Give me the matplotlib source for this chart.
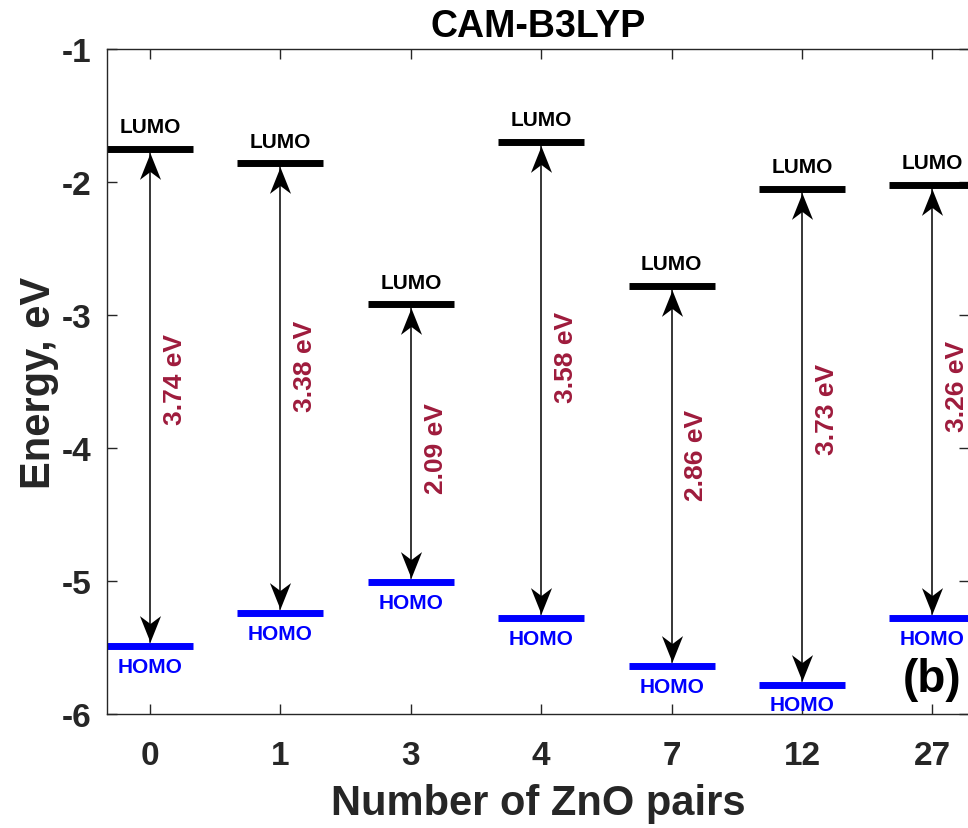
#!/usr/bin/env python

# levels.py - HOMO/LUMO energy levels and gaps vs. number of ZnO pairs (CAM-B3LYP)

# require
import matplotlib
matplotlib.use( 'Agg' )
import matplotlib.pyplot as plt
from matplotlib.path import Path

# data
pairs     = [ '0', '1', '3', '4', '7', '12', '27' ]
lumo      = [ -1.75, -1.86, -2.92, -1.70, -2.78, -2.05, -2.02 ]
homo      = [ -5.49, -5.24, -5.01, -5.28, -5.64, -5.78, -5.28 ]
gaps      = [ '3.74 eV', '3.38 eV', '2.09 eV', '3.58 eV', '2.86 eV', '3.73 eV', '3.26 eV' ]
gap_label_y = [ -3.48, -3.38, -4.00, -3.31, -4.05, -3.70, -3.53 ]

# configure
FONT      = 'Liberation Sans'
HALF      = 0.33
GAPCOLOR  = '#9e1b3c'
GREY      = '#262626'
TIP       = 0.03

plt.rcParams[ 'font.family' ] = [ FONT, 'DejaVu Sans' ]
plt.rcParams[ 'font.weight' ] = 'bold'
plt.rcParams[ 'axes.unicode_minus' ] = False

# arrow heads, tip at the origin
up   = Path( [ ( 0, 0 ), ( -0.4, -1 ), ( 0, -0.7 ), ( 0.4, -1 ), ( 0, 0 ) ],
             [ Path.MOVETO, Path.LINETO, Path.LINETO, Path.LINETO, Path.CLOSEPOLY ] )
down = Path( [ ( 0, 0 ), ( -0.4, 1 ), ( 0, 0.7 ), ( 0.4, 1 ), ( 0, 0 ) ],
             [ Path.MOVETO, Path.LINETO, Path.LINETO, Path.LINETO, Path.CLOSEPOLY ] )

fig = plt.figure( figsize=( 9.68, 8.29 ), dpi=100 )
ax  = fig.add_axes( [ 0.1105, 0.1375, 0.8905, 0.8022 ] )

for i, ( l, h ) in enumerate( zip( lumo, homo ) ) :
	x = i + 1
	ax.plot( [ x - HALF, x + HALF ], [ l, l ], color='black', lw=5, solid_capstyle='butt' )
	ax.plot( [ x - HALF, x + HALF ], [ h, h ], color='#0000ff', lw=5, solid_capstyle='butt' )
	ax.plot( [ x, x ], [ l - TIP, h + TIP ], color='black', lw=1.1 )
	ax.plot( x, l - TIP, marker=up, ms=38, color='black', mew=0 )
	ax.plot( x, h + TIP, marker=down, ms=38, color='black', mew=0 )
	ax.annotate( 'LUMO', ( x, l ), xytext=( 0, 16 ), textcoords='offset points',
	             ha='center', va='center', fontsize=15, fontweight='bold', color='black' )
	ax.annotate( 'HOMO', ( x, h ), xytext=( 0, -14.5 ), textcoords='offset points',
	             ha='center', va='center', fontsize=15, fontweight='bold', color='#0000ff' )
	ax.text( x + 0.19, gap_label_y[ i ], gaps[ i ], rotation=90, ha='center', va='center',
	         fontsize=19, fontweight='bold', color=GAPCOLOR )

ax.text( 7, -5.74, '(b)', ha='center', va='center', fontsize=33, fontweight='bold', color='black' )

# axes
ax.set_xlim( 0.67, 7.28 )
ax.set_ylim( -6, -1 )
ax.set_xticks( range( 1, len( pairs ) + 1 ) )
ax.set_xticklabels( pairs )
ax.set_yticks( [ -6, -5, -4, -3, -2, -1 ] )
ax.tick_params( direction='in', top=True, right=True, length=7, width=1, colors=GREY,
                labelsize=24, pad=11 )
ax.tick_params( axis='x', pad=19 )
for s in ax.spines.values() :
	s.set_color( GREY )
	s.set_linewidth( 1 )
for t in ax.get_xticklabels() + ax.get_yticklabels() : t.set_fontweight( 'bold' )

ax.set_xlabel( 'Number of ZnO pairs', fontsize=30, fontweight='bold', color=GREY, labelpad=8 )
ax.set_ylabel( 'Energy, eV', fontsize=30, fontweight='bold', color=GREY, labelpad=2 )
ax.set_title( 'CAM-B3LYP', fontsize=27, fontweight='bold', color='black', pad=9 )

# output and done
fig.savefig( 'out.png', dpi=100 )
